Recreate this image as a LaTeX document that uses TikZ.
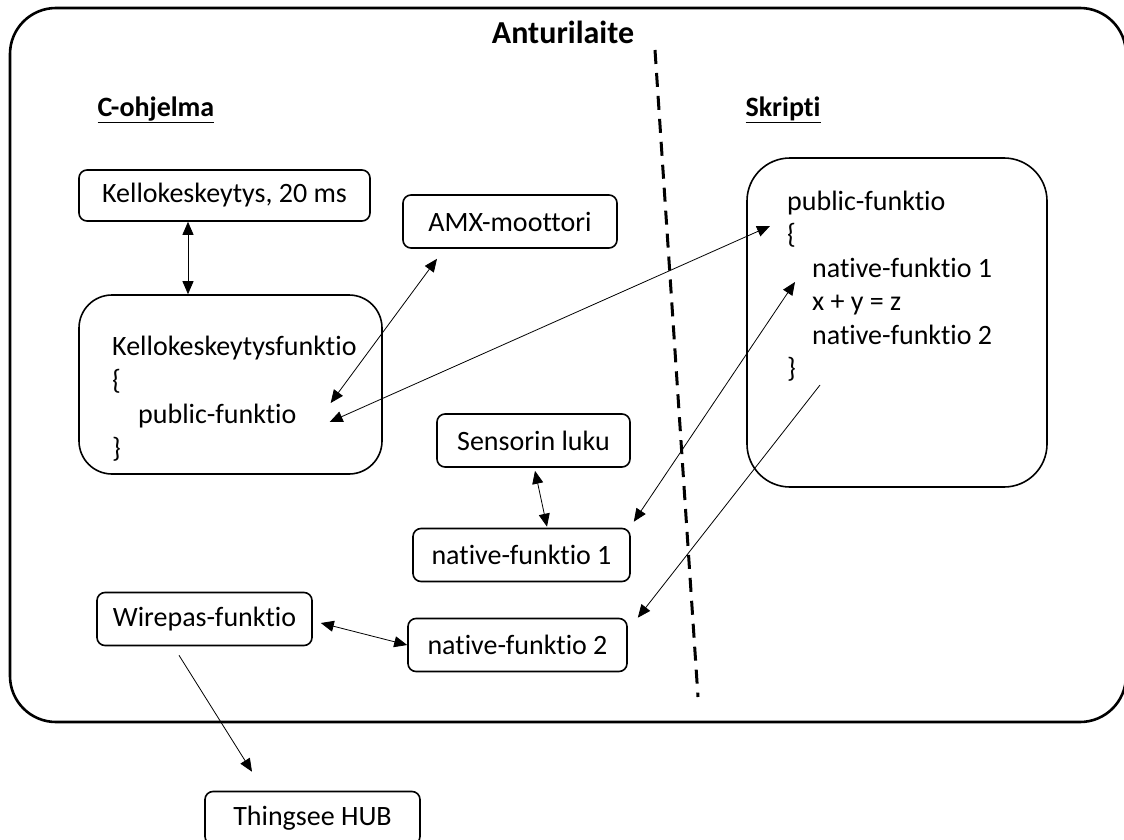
\documentclass[tikz,border=0pt]{standalone}
\usepackage{fontspec}
\setmainfont[Ligatures=NoCommon]{Carlito}
\usetikzlibrary{arrows.meta}
\tikzset{box/.style={draw,rounded corners=8pt,line width=1.6pt,minimum height=53pt,inner sep=0pt,font=\fontsize{28}{34}\selectfont}, bigbox/.style={draw,line width=1.6pt,inner sep=0pt}, codeline/.style={anchor=west,inner sep=0pt,text height=20pt,text depth=6pt,font=\fontsize{28}{34}\selectfont}, heading/.style={font=\fontsize{28}{34}\selectfont\bfseries}, biarrow/.style={{Triangle[length=13pt,width=11pt]}-{Triangle[length=13pt,width=11pt]},line width=0.8pt}, arrow/.style={-{Triangle[length=13pt,width=11pt]},line width=0.8pt}}
\begin{document}
\begin{tikzpicture}[x=1pt,y=-1pt]
\useasboundingbox (0,0) rectangle (1124,840);
\draw[line width=2.6pt,rounded corners=46pt] (10,8) rectangle (1126,722);
\node[font=\fontsize{32}{38}\selectfont\bfseries] (title) at (563,32) {Anturilaite};
\coordinate (divtop) at (655,50);
\coordinate (divbot) at (698,697);
\draw[line width=3pt,dash pattern=on 14pt off 9pt] (divtop) -- (divbot);
\node[heading] (cprog) at (156,110) {\underline{C-ohjelma}};
\node[heading] (script) at (783,110) {\underline{Skripti}};
\node[box,minimum width=291pt,minimum height=51pt] (kello) at (224.5,195.5) {Kellokeskeytys, 20 ms};
\node[box,minimum width=214pt] (amx) at (510,221.5) {AMX-moottori};
\node[bigbox,minimum width=303pt,minimum height=179pt,rounded corners=33pt] (kfunc) at (230.5,384.5) {};
\node[codeline] (kf1) at (112,348) {Kellokeskeytysfunktio};
\node[codeline] (kf2) at (112,382) {\{};
\node[codeline] (kf3) at (138,416) {public-funktio};
\node[codeline] (kf4) at (112,450) {\}};
\node[bigbox,minimum width=300pt,minimum height=329pt,rounded corners=43pt] (sfunc) at (897,322.5) {};
\node[codeline] (sf1) at (787,203) {public-funktio};
\node[codeline] (sf2) at (787,236) {\{};
\node[codeline] (sf3) at (812,270) {native-funktio 1};
\node[codeline] (sf4) at (812,303) {x + y = z};
\node[codeline] (sf5) at (812,337) {native-funktio 2};
\node[codeline] (sf6) at (787,370) {\}};
\node[box,minimum width=193pt] (sens) at (533.5,440.5) {Sensorin luku};
\node[box,minimum width=217pt] (nat1) at (521.5,555) {native-funktio 1};
\node[box,minimum width=219pt] (nat2) at (517.5,645) {native-funktio 2};
\node[box,minimum width=215pt] (wire) at (204.5,619) {Wirepas-funktio};
\node[box,minimum width=215pt] (hub) at (312.5,818) {Thingsee HUB};
\draw[biarrow] ([xshift=-36.5pt]kello.south) -- ([xshift=-42.5pt]kfunc.north);
\draw[biarrow] ([xshift=-73pt,yshift=-10pt]amx.south) -- ([xshift=34pt,yshift=13pt]kf3.east);
\draw[biarrow] ([xshift=-17pt,yshift=10pt]sf2.west) -- ([xshift=33pt,yshift=-6pt]kf3.east);
\draw[biarrow] ([xshift=-17pt,yshift=-12pt]sf3.west) -- ([xshift=3pt,yshift=6pt]nat1.north east);
\draw[arrow] ([xshift=33pt,yshift=-15pt]sf6.west) -- ([xshift=10pt]nat2.north east);
\draw[biarrow] ([xshift=1.5pt,yshift=-3pt]sens.south) -- ([xshift=25.5pt,yshift=1pt]nat1.north);
\draw[biarrow] ([xshift=8pt,yshift=-4pt]wire.east) -- (nat2.west);
\draw[arrow] ([xshift=-25.5pt,yshift=-9pt]wire.south) -- ([xshift=-60.5pt,yshift=19pt]hub.north);
\end{tikzpicture}
\end{document}
